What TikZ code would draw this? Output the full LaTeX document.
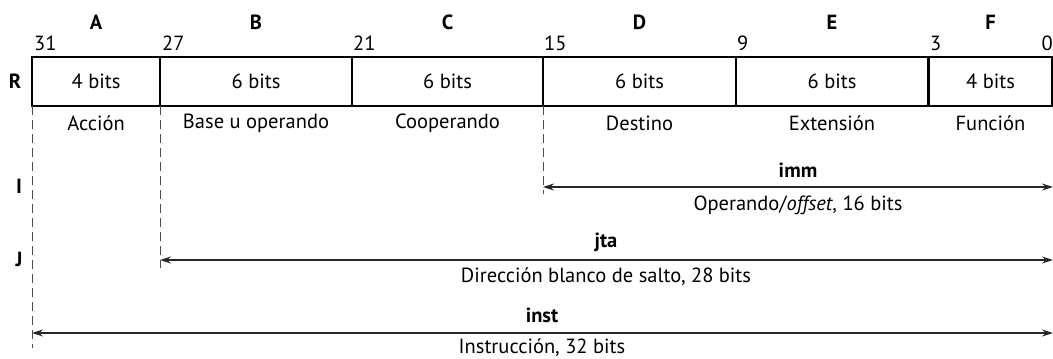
\documentclass[tikz,border=0pt]{standalone}
\usepackage{fontspec}
\setmainfont{PT Sans}
\usetikzlibrary{arrows.meta}
\begin{document}
\begin{tikzpicture}[x=1pt,y=-1pt,
  font=\fontsize{20.5}{23}\selectfont,
  cell/.style={draw, line width=2pt, minimum height=49pt, inner sep=0pt},
  hdr/.style={font=\fontsize{20.5}{23}\selectfont\bfseries, inner sep=0pt},
  bitnum/.style={inner sep=0pt},
  fname/.style={inner sep=0pt},
  guide/.style={draw=black!70, line width=1pt, dash pattern=on 9pt off 5pt},
  span/.style={draw=black!85, line width=1.1pt, {Stealth[length=11pt,width=7pt]}-{Stealth[length=11pt,width=7pt]}}
]
\useasboundingbox (0,0) rectangle (1053,359);
% cells
\node[cell, minimum width=128pt] (cA) at (96,81.5) {4 bits};
\node[cell, minimum width=192pt] (cB) at (256,81.5) {6 bits};
\node[cell, minimum width=191pt] (cC) at (447.5,81.5) {6 bits};
\node[cell, minimum width=193pt] (cD) at (639.5,81.5) {6 bits};
\node[cell, minimum width=192pt] (cE) at (832,81.5) {6 bits};
\node[cell, minimum width=123pt] (cF) at (990.5,81.5) {4 bits};
% column letters
\node[hdr] (lA) at (96,22) {A};
\node[hdr] (lB) at (256,22) {B};
\node[hdr] (lC) at (447.5,22) {C};
\node[hdr] (lD) at (639.5,22) {D};
\node[hdr] (lE) at (832,22) {E};
\node[hdr] (lF) at (990.5,22) {F};
% bit numbers
\node[bitnum, anchor=west] (n31) at (34,43) {31};
\node[bitnum, anchor=west] (n27) at (162,43) {27};
\node[bitnum, anchor=west] (n21) at (353,43) {21};
\node[bitnum, anchor=west] (n15) at (544,43) {15};
\node[bitnum, anchor=west] (n9) at (737,43) {9};
\node[bitnum, anchor=west] (n3) at (930,43) {3};
\node[bitnum, anchor=east] (n0) at (1053,43) {0};
% field names
\node[fname] (fA) at (96,123) {Acción};
\node[fname] (fB) at (256,123) {Base u operando};
\node[fname] (fC) at (447.5,123) {Cooperando};
\node[fname] (fD) at (639.5,123) {Destino};
\node[fname] (fE) at (832,123) {Extensión};
\node[fname] (fF) at (990.5,123) {Función};
% row letters
\node[hdr] (rR) at (15,81) {R};
\node[hdr] (rI) at (19,186) {I};
\node[hdr] (rJ) at (19,259) {J};
% guide coordinates
\coordinate (g31t) at (32,106);
\coordinate (g31b) at (32,348);
\coordinate (g27t) at (160,106);
\coordinate (g27b) at (160,268);
\coordinate (g15t) at (543,106);
\coordinate (g15b) at (543,194);
\draw[guide] (g31t) -- (g31b);
\draw[guide] (g27t) -- (g27b);
\draw[guide] (g15t) -- (g15b);
% spans
\coordinate (immL) at (543,187);
\coordinate (immR) at (1053,187);
\coordinate (jtaL) at (160,260);
\coordinate (jtaR) at (1053,260);
\coordinate (instL) at (32,333);
\coordinate (instR) at (1053,333);
\draw[span] (immL) -- (immR);
\draw[span] (jtaL) -- (jtaR);
\draw[span] (instL) -- (instR);
\node[hdr] (timm) at (798,170) {imm};
\node[fname] (dimm) at (798,205) {Operando/\textit{offset}, 16 bits};
\node[hdr] (tjta) at (606,242) {jta};
\node[fname] (djta) at (606,277) {Dirección blanco de salto, 28 bits};
\node[hdr] (tinst) at (542,315) {inst};
\node[fname] (dinst) at (542,347.5) {Instrucción, 32 bits};
\end{tikzpicture}
\end{document}
